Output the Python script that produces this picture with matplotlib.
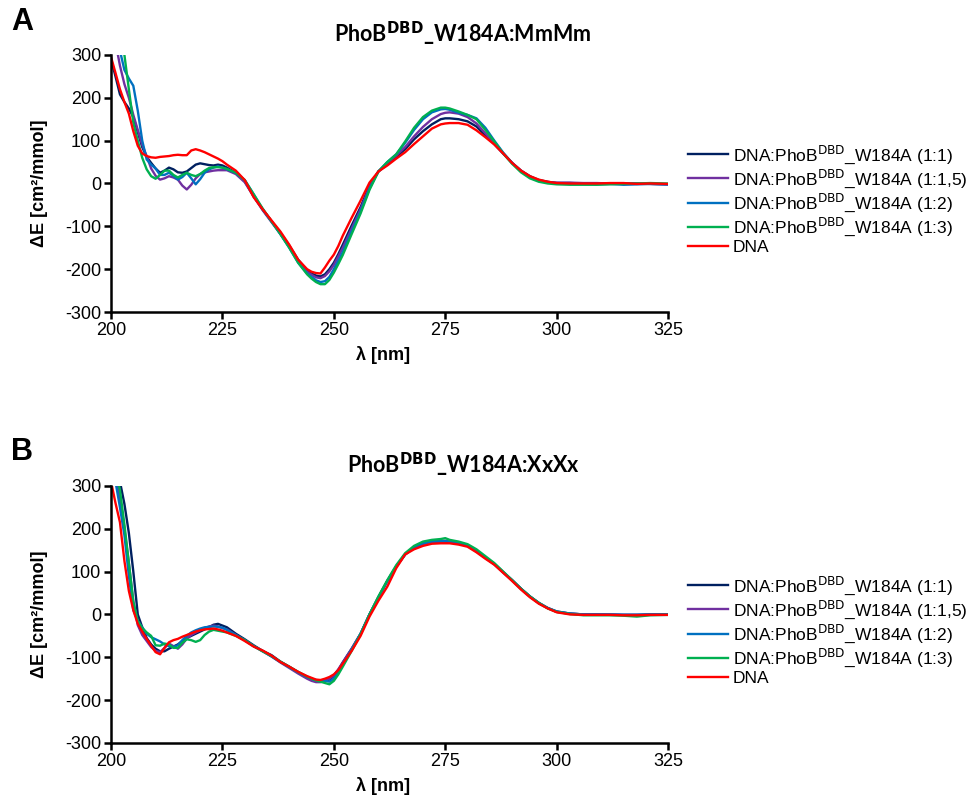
import matplotlib
matplotlib.use('Agg')
import matplotlib.pyplot as plt

plt.rcParams['font.family'] = ['Liberation Sans', 'DejaVu Sans']
plt.rcParams['axes.unicode_minus'] = False

wl = [200, 201, 202, 203, 204, 205, 206, 207, 208, 209, 210, 211, 212, 213, 214, 215, 216, 217, 218, 219,
      220, 221, 222, 223, 224, 225, 226, 228, 230, 232, 234, 236, 238, 240, 242, 244, 245, 246, 247, 248,
      249, 250, 251, 252, 254, 256, 258, 260, 262, 264, 266, 268, 270, 272, 274, 275, 276, 278, 280, 282,
      284, 286, 288, 290, 292, 294, 296, 298, 300, 303, 306, 309, 312, 315, 318, 321, 325]

# panel A: PhoB_W184A:MmMm
a_11 = [290, 250, 208, 190, 175, 155, 120, 85, 62, 48, 35, 25, 30, 37, 33, 26, 25, 28, 36, 44,
        47, 45, 43, 42, 44, 42, 37, 25, 5, -30, -60, -88, -115, -145, -178, -203, -210, -215, -217, -212,
        -200, -185, -165, -143, -98, -55, -5, 28, 45, 62, 80, 103, 122, 138, 150, 152, 152, 150, 145, 133,
        112, 92, 70, 48, 30, 17, 8, 4, 1, 1, 0, 0, 0, 0, 0, -1, -2]
a_115 = [380, 330, 275, 232, 200, 160, 125, 90, 64, 35, 18, 9, 12, 17, 14, 9, -5, -14, -3, 12,
         22, 26, 28, 30, 31, 31, 31, 22, 3, -30, -62, -90, -118, -148, -182, -206, -213, -219, -221, -216,
         -205, -190, -170, -150, -105, -60, -8, 28, 48, 65, 85, 110, 132, 150, 162, 165, 166, 163, 155, 140,
         117, 93, 70, 48, 30, 15, 7, 3, 2, 2, 1, 1, 0, -1, -1, -1, -2]
a_12 = [400, 360, 310, 265, 245, 228, 170, 100, 56, 44, 35, 20, 20, 25, 18, 9, 15, 25, 12, -2,
        10, 25, 33, 37, 40, 37, 33, 25, 8, -25, -60, -88, -118, -150, -185, -210, -218, -226, -230, -228,
        -218, -200, -180, -160, -112, -65, -12, 28, 50, 68, 95, 125, 150, 166, 173, 174, 172, 165, 160, 152,
        130, 100, 72, 48, 28, 14, 6, 2, 0, -1, -1, -2, -1, -3, -2, -1, -2]
a_13 = [420, 380, 335, 300, 220, 142, 100, 60, 33, 17, 11, 20, 30, 30, 20, 14, 20, 25, 20, 17,
        22, 30, 36, 38, 38, 37, 34, 25, 8, -25, -58, -88, -118, -150, -185, -212, -222, -230, -235, -235,
        -225, -208, -188, -167, -118, -70, -15, 28, 50, 68, 98, 130, 155, 170, 177, 177, 175, 168, 160, 150,
        125, 98, 70, 46, 26, 12, 4, 0, -2, -3, -3, -3, -2, -1, 0, 1, 0]
a_dna = [295, 258, 220, 190, 163, 122, 88, 70, 64, 61, 60, 62, 63, 64, 66, 67, 66, 66, 77, 80,
         77, 73, 68, 63, 58, 52, 44, 30, 8, -32, -60, -86, -112, -143, -178, -200, -206, -209, -210, -196,
         -180, -166, -146, -122, -80, -40, 2, 28, 42, 58, 73, 92, 110, 128, 138, 140, 141, 141, 137, 124,
         108, 91, 70, 48, 30, 17, 9, 4, 1, 0, 0, 0, 1, 1, -1, 0, -1]

# panel B: PhoB_W184A:XxXx
b_11 = [400, 360, 310, 258, 190, 100, 0, -30, -55, -70, -80, -86, -86, -80, -75, -70, -62, -55, -50, -45,
        -40, -35, -30, -24, -22, -26, -30, -45, -58, -72, -85, -95, -110, -122, -135, -148, -152, -155, -156, -155,
        -152, -144, -130, -112, -80, -45, 0, 40, 78, 112, 140, 157, 165, 170, 170, 170, 169, 165, 160, 147,
        132, 117, 98, 80, 60, 42, 26, 15, 6, 2, 0, 0, -1, -1, -1, 0, 0]
b_115 = [380, 330, 273, 200, 120, 30, -25, -48, -62, -76, -85, -88, -78, -68, -74, -80, -70, -56, -48, -42,
         -37, -32, -28, -26, -28, -32, -35, -48, -60, -74, -86, -98, -112, -125, -138, -150, -155, -158, -158, -155,
         -150, -142, -128, -112, -80, -45, 0, 40, 78, 112, 140, 156, 165, 170, 172, 172, 170, 166, 160, 148,
         133, 118, 99, 80, 60, 42, 27, 15, 7, 2, 0, 0, 0, -1, -1, -1, -1]
b_12 = [360, 310, 250, 185, 90, 10, -15, -30, -45, -53, -58, -63, -70, -74, -76, -72, -60, -50, -42, -37,
        -33, -30, -29, -28, -29, -31, -36, -48, -60, -74, -85, -98, -111, -123, -135, -146, -150, -153, -155, -155,
        -157, -150, -136, -118, -82, -45, 0, 40, 78, 112, 140, 157, 166, 170, 171, 171, 170, 167, 160, 148,
        133, 118, 99, 80, 60, 42, 27, 15, 7, 2, 0, 0, 0, -1, -1, 0, 0]
b_13 = [380, 340, 290, 210, 120, 30, -15, -32, -42, -50, -72, -73, -68, -70, -78, -78, -66, -58, -60, -64,
        -60, -48, -40, -36, -38, -40, -42, -50, -60, -74, -86, -97, -110, -122, -134, -145, -150, -154, -157, -160,
        -163, -155, -140, -122, -85, -46, 0, 42, 80, 115, 143, 160, 170, 174, 176, 178, 174, 170, 164, 152,
        136, 120, 100, 80, 60, 42, 27, 14, 6, 1, -2, -2, -2, -3, -5, -2, -1]
b_dna = [310, 260, 215, 125, 55, 10, -22, -40, -57, -73, -88, -93, -78, -65, -60, -57, -52, -48, -44, -40,
         -37, -35, -34, -33, -35, -38, -42, -50, -62, -75, -84, -96, -111, -122, -134, -144, -148, -152, -153, -150,
         -146, -140, -130, -115, -85, -50, -5, 32, 65, 108, 140, 152, 160, 165, 166, 166, 166, 163, 158, 145,
         130, 116, 97, 78, 58, 40, 25, 14, 5, 0, -1, -1, -1, -2, -2, -1, -1]

labels = ['DNA:PhoB$^{\\mathrm{DBD}}$_W184A (1:1)', 'DNA:PhoB$^{\\mathrm{DBD}}$_W184A (1:1,5)',
          'DNA:PhoB$^{\\mathrm{DBD}}$_W184A (1:2)', 'DNA:PhoB$^{\\mathrm{DBD}}$_W184A (1:3)', 'DNA']
colors = ['#002060', '#7030a0', '#0070c0', '#00b050', '#ff0000']
xticks = [200, 225, 250, 275, 300, 325]
yticks = [-300, -200, -100, 0, 100, 200, 300]

fig = plt.figure(figsize=(9.8, 7.96), dpi=100)

panels = [
    ([a_11, a_115, a_12, a_13, a_dna], [0.1133, 0.608, 0.5684, 0.323], 'A',
     'PhoB$^{\\mathbf{DBD}}$_W184A:MmMm', 22, 34, 183, 355),
    ([b_11, b_115, b_12, b_13, b_dna], [0.1133, 0.0666, 0.5684, 0.323], 'B',
     'PhoB$^{\\mathbf{DBD}}$_W184A:XxXx', 452, 465, 614, 786),
]

for series, rect, letter, title, ly, ty, yly, xly in panels:
    ax = fig.add_axes(rect)
    for vals, lab, col in zip(series, labels, colors):
        ax.plot(wl, vals, color=col, lw=1.7, label=lab)
    ax.set_xlim(200, 325)
    ax.set_ylim(-300, 300)
    ax.set_xticks(xticks)
    ax.set_yticks(yticks)
    for s in ['top', 'right']:
        ax.spines[s].set_visible(False)
    for s in ['left', 'bottom']:
        ax.spines[s].set_linewidth(1.8)
    ax.tick_params(direction='out', length=5, width=1.8, labelsize=13, pad=2)
    ax.legend(loc='center left', bbox_to_anchor=(0.702, 1 - (ty + 165) / 796),
              bbox_transform=fig.transFigure, frameon=False, fontsize=12.5,
              handlelength=2.3, handletextpad=0.3, labelspacing=0.1,
              borderpad=0, borderaxespad=0)
    fig.text(22 / 980, 1 - ly / 796, letter, fontsize=22, fontweight='bold',
             ha='center', va='center')
    fig.text(463 / 980, 1 - ty / 796, title, fontsize=15.5, fontweight='bold',
             family=['Lato', 'DejaVu Sans'], ha='center', va='center')
    fig.text(40 / 980, 1 - yly / 796, '\u0394E [cm\u00b2/mmol]', fontsize=13,
             fontweight='bold', rotation=90, ha='center', va='center')
    fig.text(383 / 980, 1 - xly / 796, '\u03bb [nm]', fontsize=13,
             fontweight='bold', ha='center', va='center')

fig.savefig('out.png', dpi=100)
